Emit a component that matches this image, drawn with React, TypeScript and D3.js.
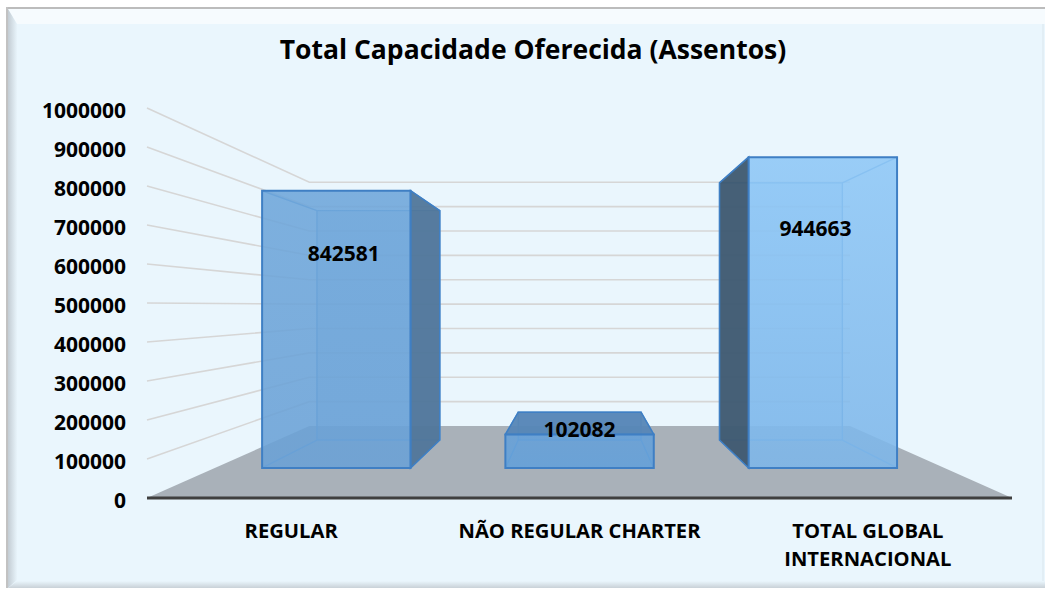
import React from "react";
import * as d3 from "d3";

const title = "Total Capacidade Oferecida (Assentos)";
const categories = ["REGULAR", "NÃO REGULAR CHARTER", "TOTAL GLOBAL INTERNACIONAL"];
const categoryLines = [["REGULAR"], ["NÃO REGULAR CHARTER"], ["TOTAL GLOBAL", "INTERNACIONAL"]];
const values = [842581, 102082, 944663];
const yTicks = [0, 100000, 200000, 300000, 400000, 500000, 600000, 700000, 800000, 900000, 1000000];

const frontFill = ["#6ea6da", "#66a0d8", "#8ec7f6"];
const frontFillBottom = ["#6aa1d6", "#62a0da", "#7db6e9"];
const sideFill = ["#50769a", "#4a74a0", "#3e5870"];

const W = 1045, H = 590;
const VP = { x: 580, y: 306 };
const K = 0.375; // depth shrink at back wall
const BAR_D0 = 0.4167, BAR_D1 = 0.805;

function proj(x: number, y: number, d: number): [number, number] {
  const s = 1 - K * d;
  return [VP.x + (x - VP.x) * s, VP.y + (y - VP.y) * s];
}
const pts = (a: [number, number][]) => a.map(p => p.join(",")).join(" ");

export default function App() {
  const x = d3.scaleBand<string>().domain(categories).range([147, 1012]).paddingInner(0.39).paddingOuter(0.195);
  const y = d3.scaleLinear().domain([0, 1000000]).range([498, 108]);
  const x0 = 147, x1 = 1012;
  const font = "'Open Sans', 'DejaVu Sans', sans-serif";

  const floor = [proj(x0, y(0), 0), proj(x1, y(0), 0), proj(x1, y(0), 1), proj(x0, y(0), 1)];

  return (
    <svg width={W} height={H} style={{ position: "absolute", left: 0, top: 0 }} fontFamily={font}>
      <defs>
        <linearGradient id="leftBand" x1="0" x2="1" y1="0" y2="0">
          <stop offset="0" stopColor="#c3ccd3" />
          <stop offset="1" stopColor="#e8f4fb" />
        </linearGradient>
        <linearGradient id="botBand" x1="0" x2="0" y1="0" y2="1">
          <stop offset="0" stopColor="#eaf6fd" />
          <stop offset="1" stopColor="#c9d1d7" />
        </linearGradient>
        {values.map((_, i) => (
          <linearGradient key={i} id={`front${i}`} x1="0" x2="0" y1="0" y2="1">
            <stop offset="0" stopColor={frontFill[i]} />
            <stop offset="1" stopColor={frontFillBottom[i]} />
          </linearGradient>
        ))}
      </defs>
      {/* frame */}
      <rect x={6} y={8} width={W - 6} height={580} fill="#eaf6fd" />
      <polygon points={pts([[8, 9], [W, 9], [W, 24], [17, 24]])} fill="#f6fbfe" />
      <polygon points={pts([[8, 9], [17, 24], [17, 580], [8, 588]])} fill="url(#leftBand)" />
      <polygon points={pts([[8, 588], [17, 581], [W, 581], [W, 588]])} fill="url(#botBand)" />
      <rect x={6} y={7} width={W - 6} height={2} fill="#bcbcbc" />
      <rect x={6} y={7} width={2} height={581} fill="#c2c2c2" />
      <rect x={W - 3} y={24} width={2} height={557} fill="#e2eef5" />

      {/* title */}
      <text x={533} y={59} textAnchor="middle" fontSize={26.5} fontWeight="bold" fill="#000">{title}</text>

      {/* gridlines */}
      {yTicks.filter(t => t > 0).map(t => (
        <polyline key={t} fill="none" stroke="#d6d6d6" strokeWidth={1.6}
          points={pts([proj(x0, y(t), 0), proj(x0, y(t), 1), proj(x1, y(t), 1)])} />
      ))}

      {/* floor */}
      <polygon points={pts(floor)} fill="#a9b1b9" />
      <line x1={x0} x2={x1} y1={y(0)} y2={y(0)} stroke="#3f3f3f" strokeWidth={3} />

      {/* y labels */}
      {yTicks.map(t => (
        <text key={t} x={126} y={y(t) + 2} textAnchor="end" dominantBaseline="central" fontSize={21} fontWeight="bold" fill="#000">{t}</text>
      ))}

      {/* bars */}
      {categories.map((c, i) => {
        const bx0 = x(c)!;
        const bx1 = bx0 + x.bandwidth();
        const yb = y(0), yt = y(values[i]);
        const F = (xx: number, yy: number) => proj(xx, yy, BAR_D0);
        const B = (xx: number, yy: number) => proj(xx, yy, BAR_D1);
        const front = [F(bx0, yt), F(bx1, yt), F(bx1, yb), F(bx0, yb)];
        const back = [B(bx0, yt), B(bx1, yt), B(bx1, yb), B(bx0, yb)];
        const side = bx1 < VP.x ? bx1 : bx0 > VP.x ? bx0 : null;
        const topVisible = yt > VP.y;
        const edge = "#3f7fc4";
        const inner = "#5d9ad6";
        return (
          <g key={c}>
            <polygon points={pts(back)} fill={frontFill[i]} fillOpacity={0.35} stroke={inner} strokeWidth={1.4} />
            {[0, 1, 2, 3].map(k => (
              <line key={k} x1={front[k][0]} y1={front[k][1]} x2={back[k][0]} y2={back[k][1]} stroke={inner} strokeWidth={1.4} />
            ))}
            {side !== null && (
              <polygon points={pts([F(side, yt), B(side, yt), B(side, yb), F(side, yb)])}
                fill={sideFill[i]} fillOpacity={0.95} stroke={edge} strokeWidth={1.5} />
            )}
            {topVisible && (
              <polygon points={pts([F(bx0, yt), F(bx1, yt), B(bx1, yt), B(bx0, yt)])}
                fill="#5686b6" fillOpacity={0.95} stroke={edge} strokeWidth={1.5} />
            )}
            <polygon points={pts(front)} fill={`url(#front${i})`} fillOpacity={0.88} stroke={edge} strokeWidth={2} />
          </g>
        );
      })}

      {/* data labels */}
      {categories.map((c, i) => {
        const cx = x(c)! + x.bandwidth() / 2;
        const p = proj(cx, y(values[i] * 0.78), 0.485);
        const py = values[i] < 200000 ? p[1] - 9 : p[1];
        return (
          <text key={c} x={p[0]} y={py} textAnchor="middle" dominantBaseline="central" fontSize={21} fontWeight="bold" fill="#000">{values[i]}</text>
        );
      })}

      {/* category labels */}
      {categories.map((c, i) => {
        const cx = x(c)! + x.bandwidth() / 2;
        return categoryLines[i].map((ln, j) => (
          <text key={c + j} x={cx} y={530 + j * 28} textAnchor="middle" dominantBaseline="central" fontSize={20.2} fontWeight="bold" fill="#000">{ln}</text>
        ));
      })}
    </svg>
  );
}
